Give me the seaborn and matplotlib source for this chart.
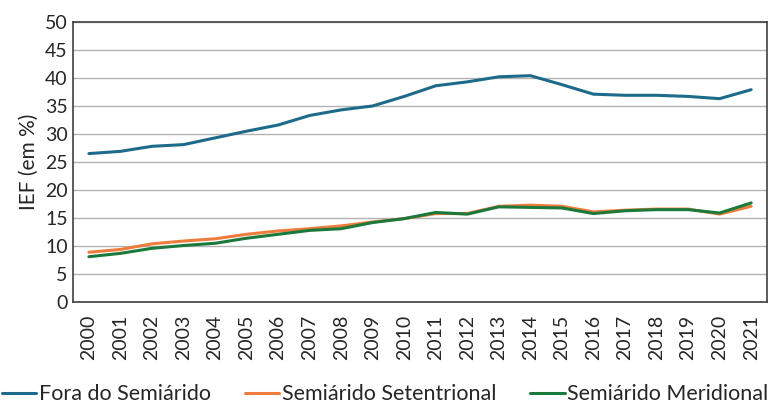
import pandas as pd
import matplotlib.pyplot as plt
import seaborn as sns

sns.set_style("white")
plt.rcParams["font.family"] = ["Lato", "DejaVu Sans"]

years = list(range(2000, 2022))
fora = [26.5, 26.9, 27.8, 28.1, 29.3, 30.5, 31.6, 33.3, 34.3, 35.0, 36.7,
        38.6, 39.3, 40.2, 40.4, 38.8, 37.1, 36.9, 36.9, 36.7, 36.3, 37.9]
setentrional = [8.9, 9.4, 10.4, 10.9, 11.3, 12.1, 12.7, 13.1, 13.6, 14.3, 14.9,
                15.8, 15.8, 17.1, 17.3, 17.1, 16.1, 16.4, 16.6, 16.6, 15.7, 17.1]
meridional = [8.1, 8.7, 9.6, 10.1, 10.5, 11.4, 12.1, 12.8, 13.1, 14.2, 14.9,
              16.0, 15.7, 17.0, 16.9, 16.8, 15.8, 16.3, 16.5, 16.5, 15.9, 17.7]
series_names = ["Fora do Semiárido", "Semiárido Setentrional", "Semiárido Meridional"]
colors = ["#1d6a8b", "#ee7c3c", "#1b7a3b"]

df = pd.DataFrame({"ano": years, series_names[0]: fora,
                   series_names[1]: setentrional, series_names[2]: meridional})
long = df.melt(id_vars="ano", var_name="serie", value_name="ief")

fig, ax = plt.subplots(figsize=(7.7, 4.05), dpi=100)
fig.subplots_adjust(left=0.095, right=0.996, top=0.946, bottom=0.254)

sns.lineplot(data=long, x="ano", y="ief", hue="serie", hue_order=series_names,
             palette=colors, linewidth=2.2, ax=ax)

ax.set_xlim(1999.5, 2021.5)
ax.set_ylim(0, 50)
ax.set_yticks(range(0, 51, 5))
ax.set_xticks(years)
ax.set_xticklabels([str(y) for y in years], rotation=90, fontsize=14)
ax.tick_params(axis="y", labelsize=14, length=0, pad=4)
ax.tick_params(axis="x", length=0, pad=9)
ax.yaxis.grid(True, color="#b3b3b3", linewidth=1)
ax.set_axisbelow(True)
for s in ax.spines.values():
    s.set_color("#404040")
    s.set_linewidth(1.2)
ax.set_xlabel("")
ax.set_ylabel("IEF (em %)", fontsize=15)

ax.get_legend().remove()
handles, labels = ax.get_legend_handles_labels()
fig.legend(handles, labels, loc="lower center", bbox_to_anchor=(0.5, -0.035),
           ncol=3, frameon=False, handlelength=1.6,
           handletextpad=0.1, columnspacing=1.6, borderaxespad=0.3,
           prop={"family": ["Lato", "DejaVu Sans"], "size": 15.5})

fig.savefig("out.png", dpi=100)
